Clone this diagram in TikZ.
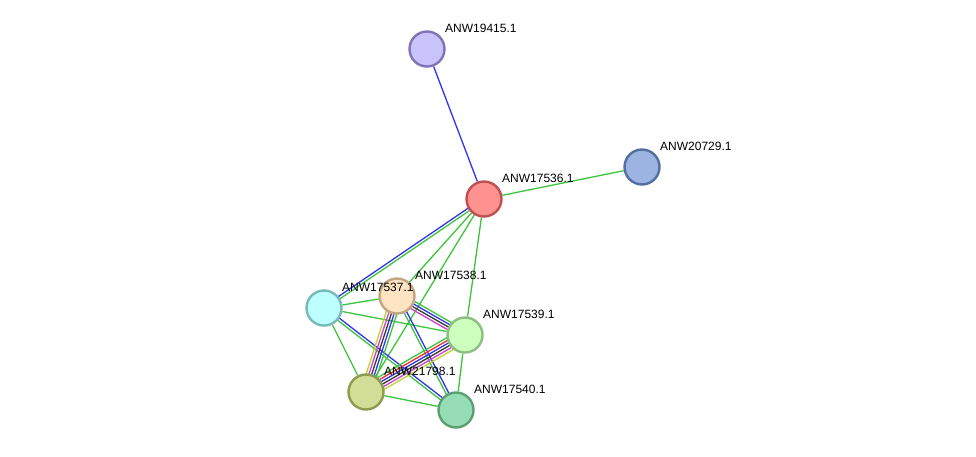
\documentclass[tikz,border=0pt]{standalone}
\usepackage{fontspec}
\setmainfont{Liberation Sans}
\usetikzlibrary{calc,backgrounds}

\definecolor{evgreen}{RGB}{60,196,60}
\definecolor{evblue}{RGB}{50,50,240}
\definecolor{evred}{RGB}{240,45,45}
\definecolor{evblack}{RGB}{55,55,55}
\definecolor{evmagenta}{RGB}{210,60,210}
\definecolor{evyellow}{RGB}{192,210,40}

% several evidence lines side by side between two proteins
\newcommand\evbundle[4]{%
  \foreach \ec [count=\ei] in {#4} {%
    \pgfmathsetmacro\eoff{(\ei-(#3+1)/2)*2.7}
    \draw[link, \ec] ($(#1)!\eoff pt!90:(#2)$) -- ($(#2)!\eoff pt!-90:(#1)$);
  }}

\begin{document}
\begin{tikzpicture}[x=1pt, y=-1pt,
  prot/.style={circle, line width=2.4pt, minimum size=35pt, inner sep=0pt},
  lbl/.style={anchor=base west, inner sep=0pt, font=\fontsize{12}{14}\selectfont},
  link/.style={line width=1.3pt}]
\useasboundingbox (0,0) rectangle (976,456);

\node[prot, fill={rgb,255:red,200;green,195;blue,250}, draw={rgb,255:red,130;green,115;blue,185}] (p19415) at (427,49) {};
\node[prot, fill={rgb,255:red,255;green,145;blue,145}, draw={rgb,255:red,190;green,80;blue,80}] (p17536) at (484,199) {};
\node[prot, fill={rgb,255:red,155;green,180;blue,225}, draw={rgb,255:red,85;green,110;blue,160}] (p20729) at (642,167) {};
\node[prot, fill={rgb,255:red,190;green,255;blue,255}, draw={rgb,255:red,120;green,185;blue,185}] (p17537) at (324,308) {};
\node[prot, fill={rgb,255:red,255;green,228;blue,196}, draw={rgb,255:red,195;green,165;blue,130}] (p17538) at (397,296) {};
\node[prot, fill={rgb,255:red,205;green,255;blue,190}, draw={rgb,255:red,140;green,190;blue,130}] (p17539) at (465,335) {};
\node[prot, fill={rgb,255:red,210;green,222;blue,150}, draw={rgb,255:red,140;green,155;blue,80}] (p21798) at (366,392) {};
\node[prot, fill={rgb,255:red,150;green,220;blue,180}, draw={rgb,255:red,90;green,160;blue,115}] (p17540) at (456,410) {};

\node[lbl] (t19415) at ($(p19415)+(18,-16.5)$) {ANW19415.1};
\node[lbl] (t17536) at ($(p17536)+(18,-16.5)$) {ANW17536.1};
\node[lbl] (t20729) at ($(p20729)+(18,-16.5)$) {ANW20729.1};
\node[lbl] (t17537) at ($(p17537)+(18,-16.5)$) {ANW17537.1};
\node[lbl] (t17538) at ($(p17538)+(18,-16.5)$) {ANW17538.1};
\node[lbl] (t17539) at ($(p17539)+(18,-16.5)$) {ANW17539.1};
\node[lbl] (t21798) at ($(p21798)+(18,-16.5)$) {ANW21798.1};
\node[lbl] (t17540) at ($(p17540)+(18,-16.5)$) {ANW17540.1};

\begin{pgfonlayer}{background}
\draw[link, evblue] (p19415) -- (p17536);
\draw[link, evgreen] (p17536) -- (p20729);
\evbundle{p17536}{p17537}{2}{evblue,evgreen}
\draw[link, evgreen] (p17536) -- (p17538);
\draw[link, evgreen] (p17536) -- (p21798);
\draw[link, evgreen] (p17536) -- (p17539);
\draw[link, evgreen] (p17537) -- (p17538);
\draw[link, evgreen] (p17537) -- (p17539);
\draw[link, evgreen] (p17537) -- (p21798);
\evbundle{p17537}{p17540}{2}{evgreen,evblue}
\evbundle{p17538}{p17539}{4}{evmagenta,evblack,evblue,evgreen}
\evbundle{p17538}{p21798}{5}{evyellow,evmagenta,evblack,evblue,evgreen}
\evbundle{p17538}{p17540}{2}{evgreen,evblue}
\evbundle{p21798}{p17539}{6}{evyellow,evmagenta,evblack,evblue,evred,evgreen}
\draw[link, evgreen] (p17539) -- (p17540);
\draw[link, evgreen] (p21798) -- (p17540);
\end{pgfonlayer}
\end{tikzpicture}
\end{document}
